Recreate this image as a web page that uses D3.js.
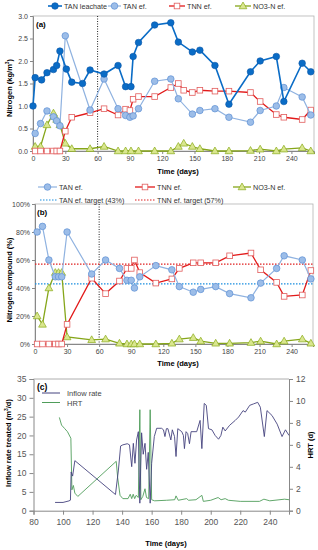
<!DOCTYPE html>
<html>
<head>
<meta charset="utf-8">
<script src="https://cdn.jsdelivr.net/npm/d3@7"></script>
<style>
  body { margin: 0; background: #fff; }
  svg { font-family: "Liberation Sans", Arial, sans-serif; }
  .tick text { fill: #444; }
  .domain { stroke: #888; }
  .tick line { stroke: #888; }
</style>
</head>
<body>
<script>
// ---- panel (a): nitrogen concentrations (kg/m3)
const leachDays = [0, 2, 8, 13, 19, 22, 25, 31, 36, 46, 53, 66, 79, 86, 91, 93, 98, 113, 128, 135, 148, 155, 169, 182, 202, 211, 226, 233, 250, 258];
const tanLeachate = [1.0, 1.63, 1.58, 1.74, 1.81, 1.9, 2.22, 1.82, 1.53, 1.5, 1.8, 1.71, 1.9, 1.43, 1.43, 2.1, 2.41, 2.8, 2.85, 2.42, 2.2, 2.24, 1.9, 1.04, 1.76, 2.0, 2.1, 1.1, 1.95, 1.76];

const tanEfDaysA = [2, 7, 13, 19, 22, 25, 30, 53, 66, 79, 86, 90, 93, 98, 113, 128, 135, 148, 155, 169, 182, 202, 211, 226, 233, 250, 258];
const tanEfA = [0.39, 0.61, 0.89, 0.76, 0.67, 0.56, 2.56, 0.91, 1.6, 0.94, 0.79, 0.75, 0.78, 0.94, 1.55, 1.6, 1.16, 0.82, 0.9, 0.94, 0.75, 0.64, 0.9, 1.0, 1.41, 1.2, 0.8];

const tnnDaysA = [2, 7, 13, 19, 22, 25, 30, 36, 53, 66, 79, 86, 90, 93, 98, 113, 128, 135, 140, 148, 155, 169, 182, 202, 211, 226, 233, 250, 258];
const tnnEfA = [0, 0, 0, 0, 0, 0, 0.44, 0.75, 0.85, 0.94, 0.8, 0.93, 0.9, 1.15, 1.21, 1.21, 1.41, 1.5, 1.35, 1.3, 1.35, 1.33, 1.33, 1.3, 1.1, 0.81, 0.75, 0.7, 0.91];

const no3DaysA = [2, 7, 13, 19, 22, 25, 30, 36, 53, 66, 79, 86, 91, 98, 113, 128, 135, 140, 148, 155, 169, 182, 202, 211, 226, 233, 250, 258];
const no3EfA = [0.1, 0.1, 0.58, 0.84, 0.7, 0.58, 0.17, 0.05, 0.05, 0.1, 0, 0, 0, 0, 0, 0, 0.1, 0.17, 0.1, 0.05, 0, 0, 0.01, 0.04, 0, 0.04, 0.07, 0];

// ---- panel (b): nitrogen compound share (%)
const daysB = [2, 7, 13, 19, 22, 25, 30, 53, 66, 79, 86, 90, 93, 98, 113, 128, 135, 148, 155, 169, 182, 202, 211, 226, 233, 250, 258];
const tanPct = [80, 84, 60, 48, 48, 48, 80, 50, 60, 54, 45.5, 45.5, 40, 48, 56, 53, 41, 37, 39, 41, 36, 33, 43.5, 54, 63, 60, 46.5];
const tnnPct = [0, 0, 0, 0, 0, 0, 14, 47, 36, 45, 54, 54, 60, 51, 43.5, 46.5, 54, 58, 58, 58, 63, 65, 53, 44, 34, 35, 52.5];
const no3Pct = [20, 14, 40, 51, 51, 51, 5, 3, 3.5, 0.5, 0, 0, 0, 0, 0, 0.5, 3.5, 4.5, 2, 0.5, 0.5, 1, 2, 0, 2, 3.5, 0.5];
const tanTarget = 43;
const tnnTarget = 57;

// ---- panel (c): inflow rate (m3/d) and HRT (d)
const inflowDays = [94.6, 100, 104, 105, 105.5, 106.5, 108, 135.5, 137.5, 139, 140.5, 143.5, 145, 146.5, 147.6, 148.7, 149.8, 151, 152, 153.2, 154.3, 155.5, 156.6, 157.7, 159, 160, 161.8, 163.4, 166.7, 168, 169, 170, 171, 173, 174, 175.5, 176.5, 177.7, 180.4, 181.5, 182.2, 183.3, 184.4, 185.6, 186.7, 190.5, 192.8, 194, 195.6, 197, 198.5, 200.8, 203, 205.3, 206.9, 208.2, 209.8, 212.8, 216.6, 218.9, 221.9, 223.4, 226.4, 229.1, 231.8, 233.6, 236.3, 238.1, 241.5, 245, 248.3, 250.6, 253];
const inflowRate = [2.2, 2.2, 2.6, 2.8, 10.3, 9.2, 13.3, 4.3, 10.8, 17.2, 17.5, 17.8, 17.5, 11.7, 17.9, 12.6, 18.8, 21, 2, 20.7, 15, 17.9, 11, 15.5, 2, 12.6, 19.7, 21.9, 21.9, 21.5, 19.7, 21.8, 21.8, 18.8, 21.5, 19.7, 14.4, 21.8, 21, 20, 16.5, 21, 20.5, 17.8, 21, 21, 24, 16.5, 28.5, 28, 21.8, 21.5, 20, 19, 20, 22.2, 21.2, 22.7, 24, 24.9, 26.6, 26.2, 28, 28.4, 28.8, 27.5, 19.7, 26.6, 25.3, 23, 19.7, 21.5, 20];

const hrtDays = [97.5, 99, 101, 103, 105.3, 106, 107, 108, 110, 136, 137, 138.6, 140.5, 144, 145.5, 146.5, 147.5, 148.5, 149.5, 151, 152, 152.7, 154, 155.5, 156.5, 158, 159, 160, 162, 170, 175.6, 176.5, 178, 183.7, 185, 190, 194, 195, 200, 205, 207, 209.8, 212, 220, 233, 236, 240, 250, 253];
const hrt = [8.5, 7.8, 7.5, 7.2, 6.6, 1.9, 2.3, 1.6, 1.3, 4.5, 3, 1.4, 1.1, 1.1, 1.5, 1.1, 1.5, 1.1, 1.4, 1.2, 9.2, 1.0, 1.3, 2.0, 1.2, 1.1, 9.2, 1.0, 0.9, 0.95, 1.0, 1.35, 0.95, 1.1, 0.95, 1.0, 1.4, 0.85, 0.95, 1.2, 1.0, 1.1, 0.95, 0.85, 0.85, 1.05, 0.9, 1.05, 1.0];

const ticksAB = [0, 30, 60, 90, 120, 150, 180, 210, 240];

const colLeach = "#0a6cc6", colTan = "#8fb2e0", colTnn = "#e21a1a", colNo3 = "#86a61a";
const colInflow = "#45437e", colHrt = "#4f9d5a";

const svg = d3.select("body").append("svg")
  .attr("width", 318)
  .attr("height", 550);

const zip = (xs, ys) => xs.map((d, i) => [d, ys[i]]);

function marker(g, type, x, y) {
  if (type === "leach") {
    g.append("circle").attr("cx", x).attr("cy", y).attr("r", 3.3)
      .attr("fill", colLeach).attr("stroke", "#0b58a8").attr("stroke-width", 0.6);
  } else if (type === "tan") {
    g.append("circle").attr("cx", x).attr("cy", y).attr("r", 3.3)
      .attr("fill", "#9cbde8").attr("stroke", "#5d8fd4").attr("stroke-width", 0.7);
  } else if (type === "tnn") {
    g.append("rect").attr("x", x - 2.8).attr("y", y - 2.8).attr("width", 5.6).attr("height", 5.6)
      .attr("fill", "#fff").attr("stroke", "#e25c5c").attr("stroke-width", 0.8);
  } else {
    g.append("path").attr("d", d3.symbol(d3.symbolTriangle, 26)())
      .attr("transform", `translate(${ x },${ y + 0.5 })`)
      .attr("fill", "#d9e68e").attr("stroke", "#8aab1a").attr("stroke-width", 0.7);
  }
}

function series(g, x, y, pts, color, type, width) {
  g.append("path")
    .datum(pts)
    .attr("fill", "none")
    .attr("stroke", color)
    .attr("stroke-width", width)
    .attr("d", d3.line().x(d => x(d[0])).y(d => y(d[1])));
  const mg = g.append("g");
  pts.forEach(d => marker(mg, type, x(d[0]), y(d[1])));
}

function legendItem(x1, x2, y, color, type, label, width) {
  svg.append("line").attr("x1", x1).attr("x2", x2).attr("y1", y).attr("y2", y)
    .attr("stroke", color).attr("stroke-width", width);
  marker(svg, type, (x1 + x2) / 2, y);
  svg.append("text").attr("x", x2 + 2).attr("y", y + 2.5)
    .style("font-size", "7.2px").style("fill", "#333").text(label);
}

function styleAxis(g, size) {
  g.selectAll(".tick text").style("font-size", size + "px");
  g.select(".domain").attr("stroke", "#888");
}

// ================= panel (a)
const xA = d3.scaleLinear().domain([0, 261]).range([33, 314]);
const yA = d3.scaleLinear().domain([0, 3]).range([151, 16]);

svg.append("rect").attr("x", 33).attr("y", 16).attr("width", 281).attr("height", 135)
  .attr("fill", "none").attr("stroke", "#b3b3b3").attr("stroke-width", 0.8);

const axAx = svg.append("g").attr("transform", "translate(0,151)")
  .call(d3.axisBottom(xA).tickValues(ticksAB).tickSize(3).tickPadding(2));
styleAxis(axAx, 7);
const axAy = svg.append("g").attr("transform", "translate(33,0)")
  .call(d3.axisLeft(yA).tickValues(d3.range(0, 3.01, 0.5)).tickFormat(d3.format(".1f")).tickSize(3).tickPadding(2));
styleAxis(axAy, 7);

svg.append("line").attr("x1", xA(60)).attr("x2", xA(60)).attr("y1", 16).attr("y2", 151)
  .attr("stroke", "#222").attr("stroke-width", 1).attr("stroke-dasharray", "1,1.5");

const gA = svg.append("g");
series(gA, xA, yA, zip(no3DaysA, no3EfA), colNo3, "no3", 1.3);
series(gA, xA, yA, zip(tnnDaysA, tnnEfA), colTnn, "tnn", 1.3);
series(gA, xA, yA, zip(tanEfDaysA, tanEfA), colTan, "tan", 1.2);
series(gA, xA, yA, zip(leachDays, tanLeachate), colLeach, "leach", 1.6);

svg.append("text").attr("x", 36).attr("y", 27).style("font-size", "8px").style("font-weight", "bold").text("(a)");

legendItem(48, 62, 6, colLeach, "leach", "TAN leachate", 1.6);
legendItem(108, 121, 6, colTan, "tan", "TAN ef.", 1.2);
legendItem(169, 185, 6, colTnn, "tnn", "TNN ef.", 1.3);
legendItem(235, 251, 6, colNo3, "no3", "NO3-N ef.", 1.3);

svg.append("text").attr("transform", "translate(12,88) rotate(-90)")
  .attr("text-anchor", "middle").style("font-size", "7.5px").style("font-weight", "bold")
  .html("Nitrogen (kg/m<tspan baseline-shift='super' font-size='5px'>3</tspan>)");

svg.append("text").attr("x", 178).attr("y", 174).attr("text-anchor", "middle")
  .style("font-size", "7.5px").style("font-weight", "bold").text("Time (days)");

// ================= panel (b)
const xB = d3.scaleLinear().domain([0, 260]).range([35, 313]);
const yB = d3.scaleLinear().domain([0, 100]).range([344, 204]);

svg.append("rect").attr("x", 35).attr("y", 204).attr("width", 278).attr("height", 140)
  .attr("fill", "none").attr("stroke", "#b3b3b3").attr("stroke-width", 0.8);

const axBx = svg.append("g").attr("transform", "translate(0,344)")
  .call(d3.axisBottom(xB).tickValues(ticksAB).tickSize(3).tickPadding(2));
styleAxis(axBx, 7);
const axBy = svg.append("g").attr("transform", "translate(35,0)")
  .call(d3.axisLeft(yB).tickValues(d3.range(0, 101, 20)).tickFormat(d => d + "%").tickSize(3).tickPadding(2));
styleAxis(axBy, 7);

svg.append("line").attr("x1", xB(60)).attr("x2", xB(60)).attr("y1", 204).attr("y2", 344)
  .attr("stroke", "#222").attr("stroke-width", 1).attr("stroke-dasharray", "1,1.5");
svg.append("line").attr("x1", 35).attr("x2", 313).attr("y1", yB(tnnTarget)).attr("y2", yB(tnnTarget))
  .attr("stroke", "#e02020").attr("stroke-width", 1.2).attr("stroke-dasharray", "1.5,1.5");
svg.append("line").attr("x1", 35).attr("x2", 313).attr("y1", yB(tanTarget)).attr("y2", yB(tanTarget))
  .attr("stroke", "#1a8ee0").attr("stroke-width", 1.2).attr("stroke-dasharray", "1.5,1.5");

const gB = svg.append("g");
series(gB, xB, yB, zip(daysB, no3Pct), colNo3, "no3", 1.3);
series(gB, xB, yB, zip(daysB, tnnPct), colTnn, "tnn", 1.3);
series(gB, xB, yB, zip(daysB, tanPct), colTan, "tan", 1.2);

svg.append("text").attr("x", 37).attr("y", 215).style("font-size", "8px").style("font-weight", "bold").text("(b)");

legendItem(38, 57, 187, colTan, "tan", "TAN ef.", 1.2);
legendItem(135, 155, 187, colTnn, "tnn", "TNN ef.", 1.3);
legendItem(233, 251, 187, colNo3, "no3", "NO3-N ef.", 1.3);
[[40, 57, "#1a8ee0", "TAN ef. target (43%)"], [135, 155, "#e02020", "TNN ef. target (57%)"]].forEach(l => {
  svg.append("line").attr("x1", l[0]).attr("x2", l[1]).attr("y1", 200).attr("y2", 200)
    .attr("stroke", l[2]).attr("stroke-width", 1.2).attr("stroke-dasharray", "1.5,1.5");
  svg.append("text").attr("x", l[1] + 2).attr("y", 202.5).style("font-size", "7.2px").style("fill", "#333").text(l[3]);
});

svg.append("text").attr("transform", "translate(12,280) rotate(-90)")
  .attr("text-anchor", "middle").style("font-size", "7.5px").style("font-weight", "bold")
  .text("Nitrogen compound (%)");

svg.append("text").attr("x", 178).attr("y", 366).attr("text-anchor", "middle")
  .style("font-size", "7.5px").style("font-weight", "bold").text("Time (days)");

// ================= panel (c)
const xC = d3.scaleLinear().domain([80, 253]).range([33.5, 289]);
const yC = d3.scaleLinear().domain([0, 35]).range([510.7, 379]);
const yC2 = d3.scaleLinear().domain([0, 12]).range([510.7, 379]);

svg.append("line").attr("x1", 33.5).attr("x2", 289).attr("y1", 379).attr("y2", 379)
  .attr("stroke", "#999").attr("stroke-width", 0.8);

const axCx = svg.append("g").attr("transform", "translate(0,510.7)")
  .call(d3.axisBottom(xC).tickValues(d3.range(80, 241, 20)).tickSize(4).tickPadding(4));
styleAxis(axCx, 8.5);
const axCy = svg.append("g").attr("transform", "translate(33.5,0)")
  .call(d3.axisLeft(yC).tickValues(d3.range(0, 36, 5)).tickSize(4).tickPadding(3));
styleAxis(axCy, 8.5);
const axCy2 = svg.append("g").attr("transform", "translate(289,0)")
  .call(d3.axisRight(yC2).tickValues(d3.range(0, 13, 2)).tickSize(4).tickPadding(3));
styleAxis(axCy2, 8.5);
[axCx, axCy, axCy2].forEach(g => g.selectAll(".tick text").style("fill", "#555"));

svg.append("path").datum(zip(hrtDays, hrt))
  .attr("fill", "none").attr("stroke", colHrt).attr("stroke-width", 0.9)
  .attr("d", d3.line().x(d => xC(d[0])).y(d => yC2(d[1])));
svg.append("path").datum(zip(inflowDays, inflowRate))
  .attr("fill", "none").attr("stroke", colInflow).attr("stroke-width", 0.9)
  .attr("d", d3.line().x(d => xC(d[0])).y(d => yC(d[1])));

svg.append("text").attr("x", 37).attr("y", 390).style("font-size", "8.5px").style("font-weight", "bold").text("(c)");
[[393, colInflow, "Inflow rate"], [402.5, colHrt, "HRT"]].forEach(l => {
  svg.append("line").attr("x1", 42).attr("x2", 60).attr("y1", l[0]).attr("y2", l[0])
    .attr("stroke", l[1]).attr("stroke-width", 1);
  svg.append("text").attr("x", 67).attr("y", l[0] + 3).style("font-size", "7.5px").style("fill", "#444").text(l[2]);
});

svg.append("text").attr("transform", "translate(11,443) rotate(-90)")
  .attr("text-anchor", "middle").style("font-size", "7.5px").style("font-weight", "bold")
  .html("Inflow rate treated (m<tspan baseline-shift='super' font-size='5px'>3</tspan>/d)");
svg.append("text").attr("transform", "translate(313,445) rotate(-90)")
  .attr("text-anchor", "middle").style("font-size", "7.5px").style("font-weight", "bold")
  .text("HRT (d)");

svg.append("text").attr("x", 166).attr("y", 546).attr("text-anchor", "middle")
  .style("font-size", "7.5px").style("font-weight", "bold").text("Time (days)");
</script>
</body>
</html>
